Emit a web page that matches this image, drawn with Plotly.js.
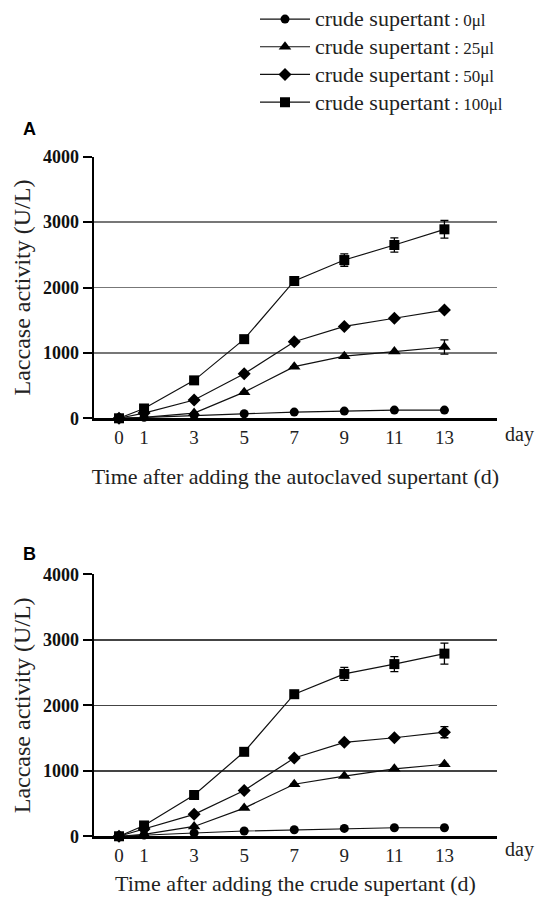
<!DOCTYPE html>
<html>
<head>
<meta charset="utf-8">
<script src="https://cdn.plot.ly/plotly-3.0.1.min.js"></script>
<style>html,body{margin:0;padding:0;background:#fff;}#chart{width:544px;height:897px;}</style>
</head>
<body>
<div id="chart"></div>
<script>
// ---- data ----
const days = [0, 1, 3, 5, 7, 9, 11, 13];
const tickDays = [0, 1, 3, 5, 7, 9, 11, 13];
const seriesNames = [
  '<span style="font-size:22px">crude supertant</span><span style="font-size:17px"> : 0μl</span>',
  '<span style="font-size:22px">crude supertant</span><span style="font-size:17px"> : 25μl</span>',
  '<span style="font-size:22px">crude supertant</span><span style="font-size:17px"> : 50μl</span>',
  '<span style="font-size:22px">crude supertant</span><span style="font-size:17px"> : 100μl</span>'
];
// Panel A (autoclaved supertant)
const a0   = [0, 15, 45, 70, 95, 110, 125, 125];
const a25  = [0, 15, 80, 400, 790, 950, 1020, 1090];
const a50  = [0, 80, 280, 680, 1170, 1405, 1530, 1655];
const a100 = [0, 150, 580, 1210, 2100, 2420, 2650, 2890];
const a0Err   = [0, 0, 0, 0, 0, 0, 0, 0];
const a25Err  = [0, 0, 0, 0, 0, 0, 0, 110];
const a50Err  = [0, 0, 0, 0, 0, 0, 0, 0];
const a100Err = [0, 0, 0, 0, 0, 95, 110, 135];
// Panel B (crude supertant)
const b0   = [0, 20, 50, 80, 100, 120, 130, 130];
const b25  = [0, 30, 150, 430, 795, 920, 1030, 1100];
const b50  = [0, 110, 335, 700, 1195, 1435, 1505, 1590];
const b100 = [0, 165, 630, 1290, 2170, 2480, 2630, 2790];
const b0Err   = [0, 0, 0, 0, 0, 0, 0, 0];
const b25Err  = [0, 0, 0, 0, 0, 0, 0, 0];
const b50Err  = [0, 0, 0, 0, 0, 0, 0, 85];
const b100Err = [0, 0, 0, 0, 0, 100, 115, 160];

// ---- styles ----
const symbols = ['circle', 'triangle-up', 'diamond', 'square'];
const sizes = [9, 11, 10, 10];
const serif = 'Liberation Serif';

function mk(y, err, i, xa, ya, showleg) {
  return {
    x: days, y: y, xaxis: xa, yaxis: ya,
    type: 'scatter', mode: 'lines+markers',
    name: seriesNames[i], showlegend: showleg,
    line: {color: '#111', width: 1.2},
    marker: {symbol: symbols[i], size: sizes[i], color: '#000'},
    error_y: {type: 'data', array: err, visible: true, color: '#000', thickness: 1.3, width: 4},
    cliponaxis: false
  };
}

const traces = [
  mk(a0, a0Err, 0, 'x', 'y', true),
  mk(a25, a25Err, 1, 'x', 'y', true),
  mk(a50, a50Err, 2, 'x', 'y', true),
  mk(a100, a100Err, 3, 'x', 'y', true),
  mk(b0, b0Err, 0, 'x2', 'y2', false),
  mk(b25, b25Err, 1, 'x2', 'y2', false),
  mk(b50, b50Err, 2, 'x2', 'y2', false),
  mk(b100, b100Err, 3, 'x2', 'y2', false)
];

const W = 544, H = 897;
const xDom = [94 / W, 497 / W];
const yDomA = [1 - 410.7 / H, 1 - 145 / H];
const yDomB = [1 - 835.3 / H, 1 - 569.3 / H];

function xAxis(anchor, titleText, standoff) {
  return {
    domain: xDom, anchor: anchor, range: [-1, 15.1],
    tickvals: tickDays, ticktext: tickDays.map(String),
    showline: true, linecolor: '#000', linewidth: 2.5,
    ticks: '', showgrid: false, zeroline: false,
    tickfont: {family: serif, size: 19, color: '#222'},
    title: {text: titleText, font: {family: serif, size: 22, color: '#222'}, standoff: standoff},
    automargin: false
  };
}
function yAxis(anchor, gridcolor) {
  return {
    domain: anchor === 'x' ? yDomA : yDomB, anchor: anchor, range: [0, 4000],
    tickvals: [0, 1000, 2000, 3000, 4000],
    showline: true, linecolor: '#000', linewidth: 2.5,
    ticks: 'outside', ticklen: 9, tickwidth: 2, tickcolor: '#000',
    showgrid: true, gridcolor: gridcolor, gridwidth: 1.5, zeroline: false,
    tickfont: {family: serif, size: 18, color: '#111', weight: 'bold'},
    title: {text: 'Laccase activity (U/L)', font: {family: serif, size: 24, color: '#222'}, standoff: 6},
    automargin: false
  };
}

const layout = {
  width: W, height: H,
  margin: {l: 0, r: 0, t: 0, b: 0},
  paper_bgcolor: '#fff', plot_bgcolor: '#fff',
  font: {family: serif, color: '#222'},
  showlegend: true,
  legend: {
    x: 255 / W, xanchor: 'left', y: 1 + 14 / H, yanchor: 'top',
    font: {family: serif, size: 19, color: '#222'},
    itemwidth: 50, bgcolor: 'rgba(0,0,0,0)'
  },
  xaxis: xAxis('y', 'Time after adding the autoclaved supertant (d)', 22),
  yaxis: yAxis('x', '#777'),
  xaxis2: xAxis('y2', 'Time after adding the crude supertant (d)', 11),
  yaxis2: yAxis('x2', '#444'),
  annotations: [
    {text: '<b>A</b>', xref: 'paper', yref: 'paper', x: 29 / W, y: 1 - 117 / H,
     xanchor: 'center', yanchor: 'middle', showarrow: false,
     font: {family: 'Liberation Sans', size: 18, color: '#000'}},
    {text: '<b>B</b>', xref: 'paper', yref: 'paper', x: 29 / W, y: 1 - 549 / H,
     xanchor: 'center', yanchor: 'middle', showarrow: false,
     font: {family: 'Liberation Sans', size: 18, color: '#000'}},
    {text: 'day', xref: 'paper', yref: 'y', x: 519 / W, y: 0, yshift: -16,
     xanchor: 'center', yanchor: 'middle', showarrow: false,
     font: {family: serif, size: 20, color: '#222'}},
    {text: 'day', xref: 'paper', yref: 'y2', x: 519 / W, y: 0, yshift: -13,
     xanchor: 'center', yanchor: 'middle', showarrow: false,
     font: {family: serif, size: 20, color: '#222'}}
  ]
};

Plotly.newPlot('chart', traces, layout, {displayModeBar: false, staticPlot: true});
</script>
</body>
</html>
